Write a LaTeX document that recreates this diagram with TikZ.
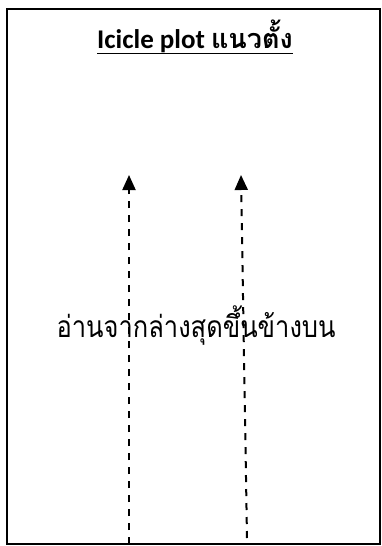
\documentclass[tikz,border=0pt]{standalone}
\usepackage{fontspec}
\setmainfont{Carlito}
\newfontfamily\thaifont[Script=Thai]{Loma}
\usetikzlibrary{arrows.meta}
\tikzset{
  frame/.style={draw=black, line width=2pt},
  uparrow/.style={draw=black, line width=2pt, dash pattern=on 7pt off 7pt,
    -{Triangle[width=13pt,length=15pt]}},
  lbl/.style={inner sep=0pt, anchor=base}
}
\begin{document}
\begin{tikzpicture}[x=1pt,y=-1pt]
\useasboundingbox (0,0) rectangle (382,546);
\draw[frame] (7,9) rectangle (380,544);
\node[lbl] (title) at (195,48) {\underline{\bfseries\fontsize{27}{32}\selectfont Icicle plot {\thaifont\bfseries แนวตั้ง}}};
\coordinate (a1s) at (129,544);
\coordinate (a1e) at (129,175);
\coordinate (a2s) at (247,538);
\coordinate (a2e) at (241,175);
\draw[uparrow] (a1s) -- (a1e);
\draw[uparrow] (a2s) -- (a2e);
\node[lbl] (read) at (196,337) {\scalebox{0.85}[1]{\thaifont\fontsize{30}{36}\selectfont อ่านจากล่างสุดขึ้นข้างบน}};
\end{tikzpicture}
\end{document}
